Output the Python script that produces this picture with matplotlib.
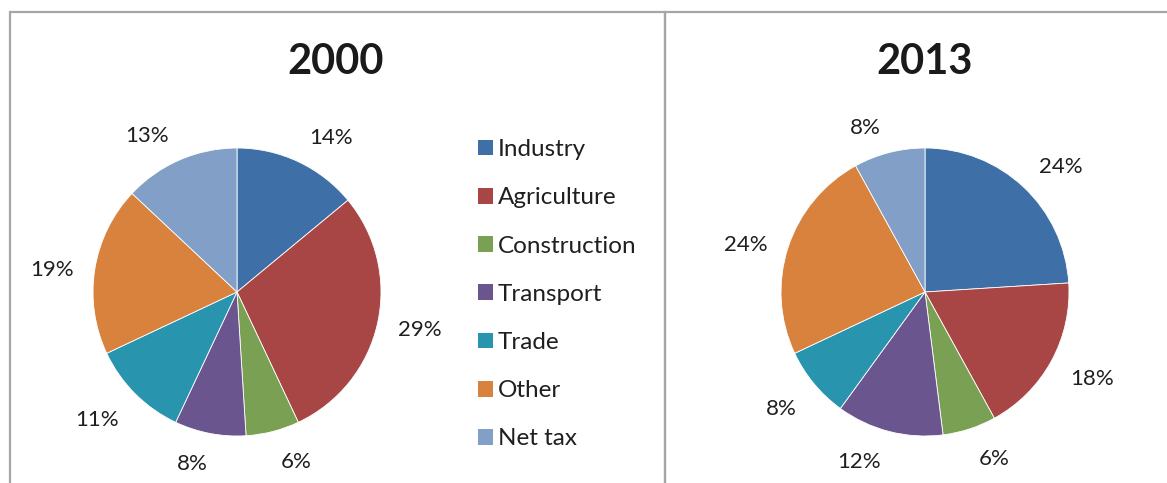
import matplotlib
matplotlib.use("Agg")
import numpy as np
import matplotlib.pyplot as plt
from matplotlib.patches import Patch, Rectangle

plt.rcParams['font.family'] = ['Lato', 'DejaVu Sans']

categories = ["Industry", "Agriculture", "Construction", "Transport", "Trade", "Other", "Net tax"]
values_2000 = [14, 29, 6, 8, 11, 19, 13]
values_2013 = [24, 18, 6, 12, 8, 24, 8]
titles = ["2000", "2013"]
colors = ["#3E6FA6", "#A84645", "#7AA153", "#6A558E", "#2994AD", "#D9823E", "#819FC7"]

W, H = 1167, 483
fig = plt.figure(figsize=(W / 100, H / 100), dpi=100)


def fx(px):
    return px / W


def fy(py):
    return 1 - py / H


# panel frames
frame_col = "#A6A6A6"
fig.add_artist(Rectangle((fx(9.5), fy(500)), fx(665) - fx(9.5), fy(12) - fy(500),
                         transform=fig.transFigure, fill=False, edgecolor=frame_col, lw=1.6))
fig.add_artist(Rectangle((fx(665), fy(500)), fx(1200) - fx(665), fy(12) - fy(500),
                         transform=fig.transFigure, fill=False, edgecolor=frame_col, lw=1.6))

r_px = 144
gap_px = 17
centers = [(237, 292), (925, 292)]
title_x = [336, 925]
label_color = "#1F1F1F"
fig.canvas.draw()
renderer = fig.canvas.get_renderer()

for vals, (cx, cy), title, tx in zip([values_2000, values_2013], centers, titles, title_x):
    ax = fig.add_axes([fx(cx - r_px), fy(cy + r_px), 2 * r_px / W, 2 * r_px / H])
    wedges, _ = ax.pie(vals, colors=colors, startangle=90, counterclock=False,
                       wedgeprops=dict(linewidth=0.6, edgecolor="white"))
    ax.set_xlim(-1, 1)
    ax.set_ylim(-1, 1)
    ax.set_aspect("auto")
    ax.axis("off")
    for w, v in zip(wedges, vals):
        ang = np.deg2rad((w.theta1 + w.theta2) / 2)
        ux, uy = np.cos(ang), np.sin(ang)
        t = ax.text(0, 0, f"{v}%", ha="center", va="center", fontsize=16, color=label_color)
        bb = t.get_window_extent(renderer)
        hw, hh = bb.width / 2 + 4, bb.height / 2 + 1
        sx = np.sign(ux) * np.clip(abs(ux) / 0.25, 0, 1)
        sy = np.sign(uy) * np.clip((abs(uy) - 0.3) / 0.3, 0, 1)
        px = (r_px + gap_px) * ux + hw * sx
        py = (r_px + gap_px) * uy + hh * sy - 3
        t.set_position((px / r_px, py / r_px))
    fig.text(fx(tx), fy(62), title, ha="center", va="center",
             fontsize=30, fontweight="bold", color="#1A1A1A")

handles = [Patch(facecolor=c, edgecolor="none") for c in colors]
fig.legend(handles, categories, loc="upper left",
           bbox_to_anchor=(fx(466), fy(127)), frameon=False,
           fontsize=17.5, handlelength=0.62, handleheight=0.62,
           handletextpad=0.2, labelspacing=1.12, borderpad=0,
           labelcolor=label_color)

fig.savefig("out.png", dpi=100, facecolor="white")
